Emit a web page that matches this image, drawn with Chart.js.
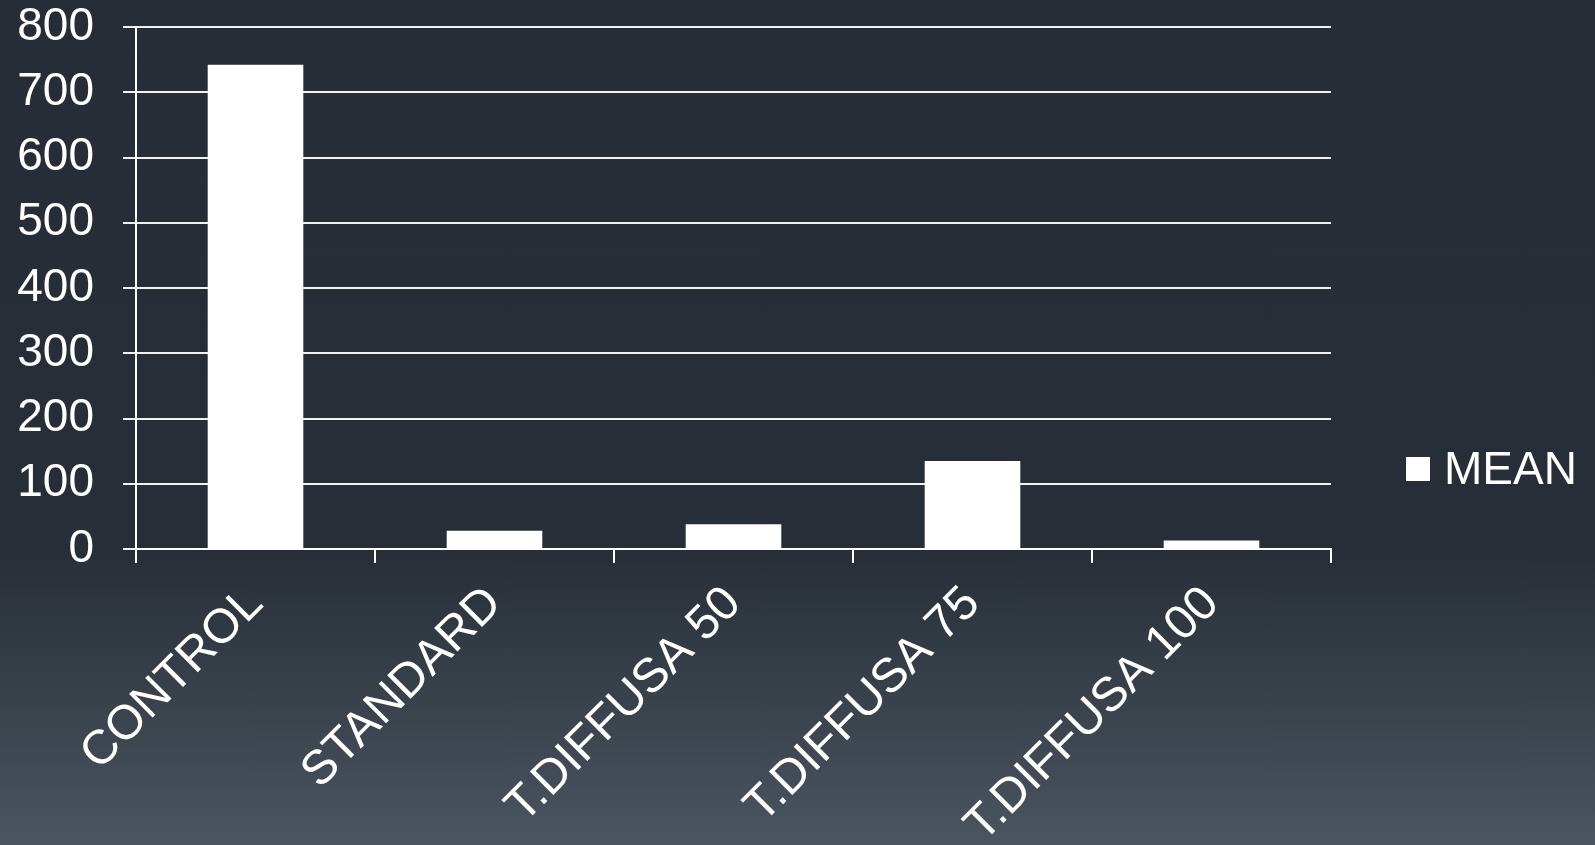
<!DOCTYPE html>
<html>
<head>
<meta charset="utf-8">
<script src="https://cdn.jsdelivr.net/npm/chart.js@4/dist/chart.umd.min.js"></script>
<style>
  html, body { margin: 0; padding: 0; }
  body {
    width: 1595px; height: 845px; overflow: hidden;
    background: linear-gradient(to bottom, #262d36 0%, #272e37 65%, #4b555f 100%);
  }
  #wrap { position: relative; width: 1595px; height: 845px; }
</style>
</head>
<body>
<div id="wrap"><canvas id="chart" width="1595" height="845"></canvas></div>
<script>
  const categories = ['CONTROL', 'STANDARD', 'T.DIFFUSA 50', 'T.DIFFUSA 75', 'T.DIFFUSA 100'];
  const meanValues = [742, 28, 38, 135, 13];
  const seriesName = 'MEAN';
  const yMax = 800, yStep = 100;

  const font = 'Liberation Sans, Arial, sans-serif';

  // legend drawn to the right of the plot, like the original slide
  const sideLegend = {
    id: 'sideLegend',
    afterDraw(chart) {
      const ctx = chart.ctx;
      const ds = chart.data.datasets[0];
      ctx.save();
      ctx.fillStyle = ds.backgroundColor;
      ctx.fillRect(1406, 457, 24, 24);
      ctx.font = '46px ' + font;
      ctx.fillStyle = '#ffffff';
      ctx.textAlign = 'left';
      ctx.textBaseline = 'middle';
      ctx.fillText(ds.label, 1444, 471);
      ctx.restore();
    }
  };

  Chart.defaults.font.family = font;
  Chart.defaults.color = '#ffffff';

  new Chart(document.getElementById('chart'), {
    type: 'bar',
    data: {
      labels: categories,
      datasets: [{
        label: seriesName,
        data: meanValues,
        backgroundColor: '#ffffff',
        borderWidth: 0,
        categoryPercentage: 0.8,
        barPercentage: 0.5
      }]
    },
    options: {
      responsive: false,
      animation: false,
      layout: { padding: { top: 27, right: 264, bottom: 0, left: 0 } },
      plugins: { legend: { display: false }, tooltip: { enabled: false } },
      scales: {
        x: {
          offset: true,
          grid: { display: true, drawOnChartArea: false, drawTicks: true, tickLength: 14, color: '#ffffff', lineWidth: 2 },
          border: { display: true, color: '#ffffff', width: 2 },
          ticks: { maxRotation: 45, minRotation: 45, padding: 16, font: { size: 48, lineHeight: 1 }, color: '#ffffff' },
          afterFit(scale) { scale.height = 296; }
        },
        y: {
          min: 0, max: yMax,
          grid: { color: '#f2f2f2', lineWidth: 2, tickLength: 13, drawTicks: true },
          border: { display: true, color: '#ffffff', width: 2 },
          ticks: { stepSize: yStep, padding: 29, font: { size: 46, lineHeight: 1 }, color: '#ffffff' },
          afterFit(scale) {
            scale.width = 136;
            scale.paddingTop = 0;
            scale.paddingBottom = 0;
          }
        }
      }
    },
    plugins: [sideLegend]
  });
</script>
</body>
</html>
